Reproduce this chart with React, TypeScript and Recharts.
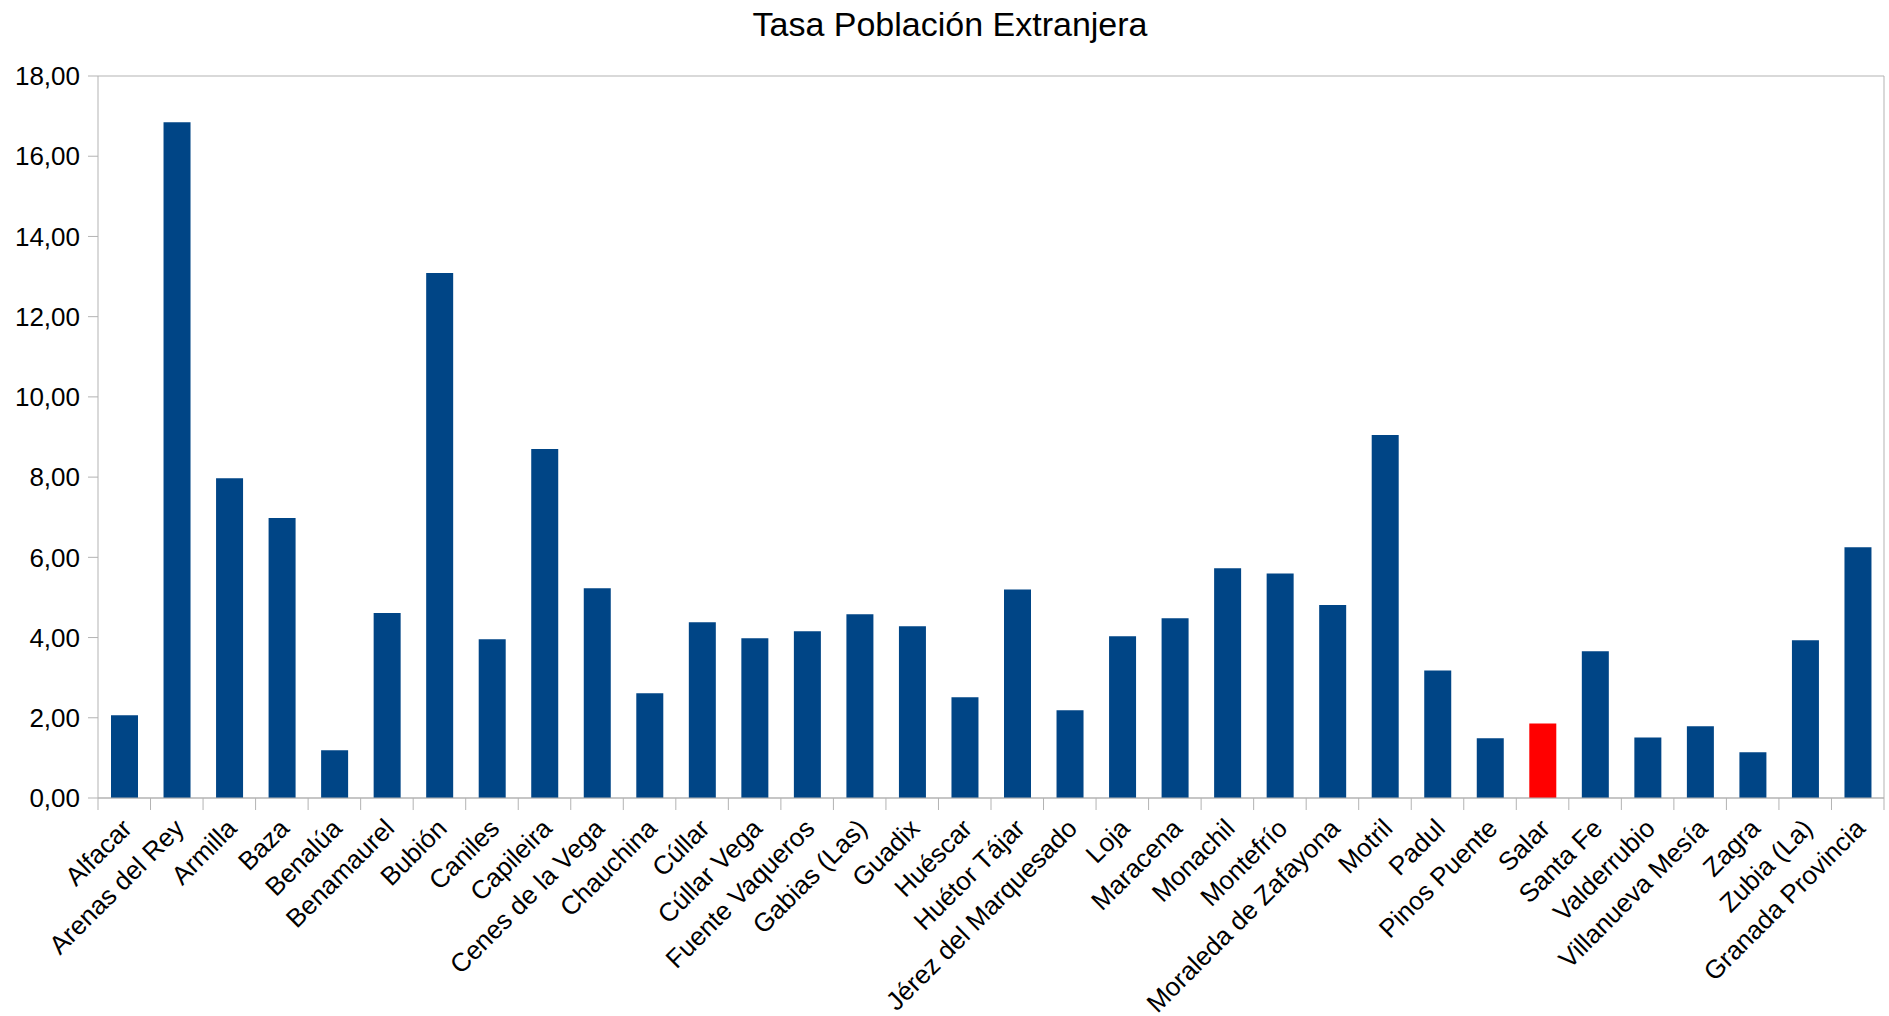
import { BarChart, Bar, XAxis, YAxis, CartesianGrid, Cell } from 'recharts';

const categories = [
  'Alfacar', 'Arenas del Rey', 'Armilla', 'Baza', 'Benalúa', 'Benamaurel', 'Bubión',
  'Caniles', 'Capileira', 'Cenes de la Vega', 'Chauchina', 'Cúllar', 'Cúllar Vega',
  'Fuente Vaqueros', 'Gabias (Las)', 'Guadix', 'Huéscar', 'Huétor Tájar',
  'Jérez del Marquesado', 'Loja', 'Maracena', 'Monachil', 'Montefrío',
  'Moraleda de Zafayona', 'Motril', 'Padul', 'Pinos Puente', 'Salar', 'Santa Fe',
  'Valderrubio', 'Villanueva Mesía', 'Zagra', 'Zubia (La)', 'Granada Provincia',
];

const tasa = [
  2.06, 16.85, 7.97, 6.98, 1.19, 4.61, 13.09,
  3.96, 8.70, 5.23, 2.61, 4.38, 3.98,
  4.16, 4.58, 4.28, 2.51, 5.20,
  2.19, 4.03, 4.48, 5.73, 5.60,
  4.81, 9.05, 3.18, 1.49, 1.86, 3.66,
  1.51, 1.79, 1.14, 3.93, 6.25,
];

const yTicks = [0, 2, 4, 6, 8, 10, 12, 14, 16, 18];
const highlighted = 'Salar';

const data = categories.map((name, i) => ({ name, tasa: tasa[i] }));

const W = 1889;
const H = 1016;
const PLOT_LEFT = 98;
const PLOT_RIGHT = 1884;
const BAND = (PLOT_RIGHT - PLOT_LEFT) / categories.length;
const GRID = '#b3b3b3';
const FONT = '"Liberation Sans", Arial, sans-serif';

const fmt = (v: number) => v.toFixed(2).replace('.', ',');

// labels rotated -45deg, tick marks sit between categories like LibreOffice
const CategoryTick = (props: any) => {
  const { x, y, payload, index } = props;
  const half = BAND / 2;
  const tx = x + 9;
  const ty = y + 32;
  return (
    <g>
      <line x1={x - half} y1={y} x2={x - half} y2={y + 12} stroke={GRID} strokeWidth={1} />
      {index === categories.length - 1 && (
        <line x1={x + half} y1={y} x2={x + half} y2={y + 12} stroke={GRID} strokeWidth={1} />
      )}
      <text
        x={tx}
        y={ty}
        transform={`rotate(-45 ${tx} ${ty})`}
        textAnchor="end"
        fontSize={26}
        fontFamily={FONT}
        fill="#000"
      >
        {payload.value}
      </text>
    </g>
  );
};

export default function App() {
  return (
    <div style={{ position: 'absolute', left: 0, top: 0, width: W, height: H, background: '#fff' }}>
      <div
        style={{
          position: 'absolute',
          left: 950,
          top: 8,
          transform: 'translateX(-50%)',
          whiteSpace: 'nowrap',
          fontFamily: FONT,
          fontSize: 34,
          lineHeight: '32px',
          color: '#000',
        }}
      >
        Tasa Población Extranjera
      </div>
      <BarChart
        width={W}
        height={H}
        data={data}
        margin={{ top: 76, right: 4, left: 0, bottom: 0 }}
        barSize={27}
      >
        <CartesianGrid horizontal vertical={false} stroke={GRID} strokeWidth={1} />
        <XAxis
          dataKey="name"
          interval={0}
          height={218}
          tickSize={0}
          tickMargin={0}
          tickLine={false}
          axisLine={{ stroke: GRID, strokeWidth: 1 }}
          tick={<CategoryTick />}
        />
        <YAxis
          yAxisId="left"
          width={98}
          domain={[0, 18]}
          ticks={yTicks}
          interval={0}
          tickFormatter={fmt}
          tickSize={10}
          tickMargin={8}
          tickLine={{ stroke: GRID }}
          axisLine={{ stroke: GRID }}
          tick={{ fontSize: 26, fontFamily: FONT, fill: '#000' }}
        />
        <YAxis
          yAxisId="right"
          orientation="right"
          width={1}
          tick={false}
          tickLine={false}
          axisLine={{ stroke: GRID }}
        />
        <Bar yAxisId="left" dataKey="tasa" isAnimationActive={false}>
          {data.map((d) => (
            <Cell key={d.name} fill={d.name === highlighted ? '#ff0000' : '#004586'} />
          ))}
        </Bar>
      </BarChart>
    </div>
  );
}
